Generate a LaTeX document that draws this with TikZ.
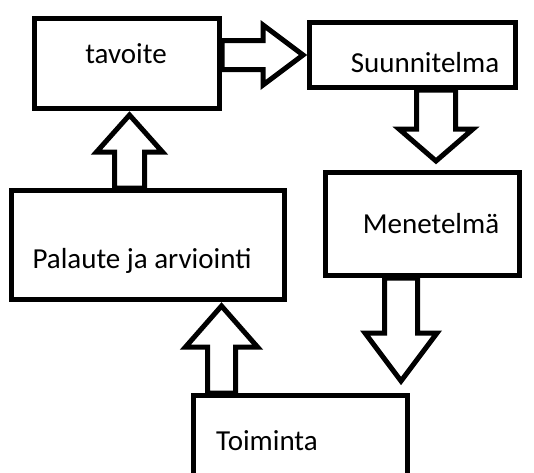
\documentclass[tikz,border=0pt]{standalone}
\usepackage{fontspec}
\setmainfont{Carlito}
\usetikzlibrary{calc}

\begin{document}
\begin{tikzpicture}[x=1pt, y=-1pt,
  box/.style={draw, line width=5pt, inner sep=0pt},
  lbl/.style={anchor=base, inner sep=0pt, font=\fontsize{29}{35}\selectfont},
  fat arrow/.style n args={3}{line width=5pt, to path={
    let \p1=(\tikztostart), \p2=(\tikztotarget),
        \n1={atan2(\y2-\y1,\x2-\x1)}, \n2={veclen(\x2-\x1,\y2-\y1)-#3} in
    ($(\p1)+(\n1+90:#1)$) -- ($(\p1)+(\n1:\n2)+(\n1+90:#1)$)
    -- ($(\p1)+(\n1:\n2)+(\n1+90:#2)$) -- (\p2)
    -- ($(\p1)+(\n1:\n2)+(\n1-90:#2)$) -- ($(\p1)+(\n1:\n2)+(\n1-90:#1)$)
    -- ($(\p1)+(\n1-90:#1)$) -- cycle}}]

% the page
\fill [white] (0,0) rectangle (534,472);
\clip (0,0) rectangle (534,472);

% the boxes
\node [box, minimum width=185pt, minimum height=90pt] (tavoite) at (127,63.5) {};
\node [box, minimum width=206pt, minimum height=65pt] (suunnitelma) at (412.5,55) {};
\node [box, minimum width=194pt, minimum height=103pt] (menetelma) at (422.5,224) {};
\node [box, minimum width=273pt, minimum height=109pt] (palaute) at (148,245) {};
\node [box, minimum width=214pt, minimum height=89.5pt] (toiminta) at (300.5,440.25) {};

% the texts
\node [lbl] (tavoite-txt) at (126,63) {tavoite};
\node [lbl] (suunnitelma-txt) at (425,72) {Suunnitelma};
\node [lbl] (menetelma-txt) at (431,233) {Menetelmä};
\node [lbl] (palaute-txt) at (142,268) {Palaute ja arviointi};
\node [lbl] (toiminta-txt) at (267,450) {Toiminta};

% the arrows
\draw [fat arrow={14.5pt}{30pt}{40pt}] (tavoite.east |- suunnitelma.west) to ([xshift=-4pt]suunnitelma.west);
\draw [fat arrow={19.5pt}{37pt}{32pt}] ([xshift=23.5pt]suunnitelma.south) to ([xshift=13.5pt, yshift=9pt]menetelma.north);
\draw [fat arrow={16.5pt}{36pt}{48pt}] ([xshift=-21.5pt]menetelma.south) to ([xshift=100.5pt, yshift=12pt]toiminta.north);
\draw [fat arrow={14pt}{36pt}{41pt}] ([xshift=-79pt]toiminta.north) to ([xshift=73.5pt, yshift=-4pt]palaute.south);
\draw [fat arrow={15pt}{33pt}{37pt}] ([xshift=-18.5pt]palaute.north) to ([xshift=2.5pt, yshift=-4pt]tavoite.south);

\end{tikzpicture}
\end{document}
